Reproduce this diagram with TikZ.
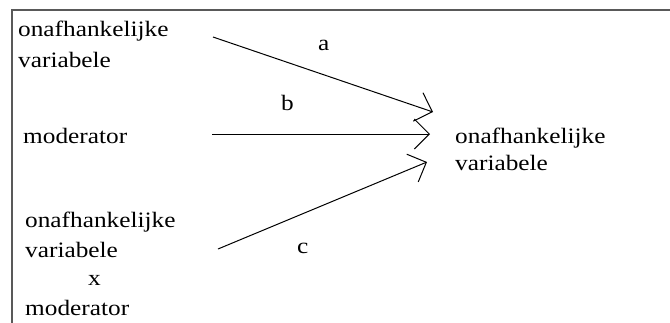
\documentclass[tikz,border=0pt]{standalone}
\usepackage{fontspec}
\setmainfont[FakeStretch=1.15]{Liberation Serif}
\usetikzlibrary{arrows.meta}
\begin{document}
\begin{tikzpicture}[x=1pt,y=-1pt,
  lbl/.style={inner sep=0pt,anchor=base west,font=\fontsize{22}{30}\selectfont},
  conn/.style={line width=1pt,-{Straight Barb[length=15pt,width=30pt,line width=1pt]}},
  frame/.style={draw=black!65,line width=2pt}]
\useasboundingbox (0,0) rectangle (670,322);
\draw[frame] (12,330) -- (12,10) -- (680,10);
% left texts
\node[lbl] (iv1a) at (18,36) {onafhankelijke};
\node[lbl] (iv1b) at (18,67) {variabele};
\node[lbl] (mod) at (23,143) {moderator};
\node[lbl] (iv2a) at (25,227) {onafhankelijke};
\node[lbl] (iv2b) at (25,257) {variabele};
\node[lbl] (x) at (88,285) {x};
\node[lbl] (mod2) at (25,315) {moderator};
% right text
\node[lbl] (dv1) at (455,143) {onafhankelijke};
\node[lbl] (dv2) at (455,170) {variabele};
% connector endpoints
\coordinate (sa) at (213,37);
\coordinate (ta) at (433,112);
\coordinate (sb) at (212,134);
\coordinate (tb) at (430,134);
\coordinate (sc) at (218,249);
\coordinate (tc) at (427,162);
\draw[conn] (sa) -- (ta);
\draw[conn] (sb) -- (tb);
\draw[conn] (sc) -- (tc);
% labels
\node[lbl] (la) at (318,50) {a};
\node[lbl] (lb) at (281,110) {b};
\node[lbl] (lc) at (297,253) {c};
\end{tikzpicture}
\end{document}
